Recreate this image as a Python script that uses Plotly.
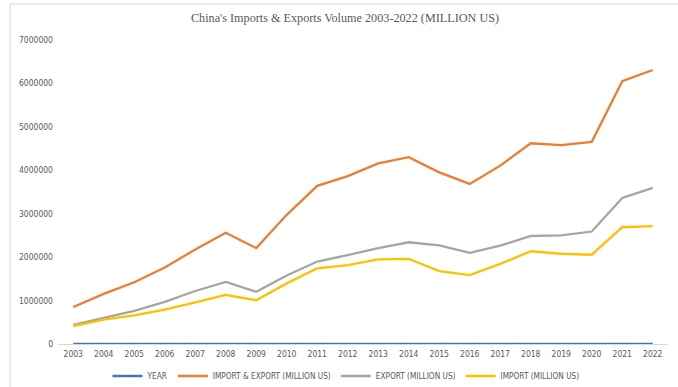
import plotly.graph_objects as go

years = [2003, 2004, 2005, 2006, 2007, 2008, 2009, 2010, 2011, 2012,
         2013, 2014, 2015, 2016, 2017, 2018, 2019, 2020, 2021, 2022]
import_export = [851000, 1154600, 1421900, 1760400, 2176200, 2563300, 2207500,
                 2974000, 3641900, 3867100, 4159000, 4301500, 3953000, 3685600,
                 4107100, 4622400, 4578900, 4655900, 6051500, 6309600]
export = [438200, 593300, 762000, 969000, 1220500, 1430700, 1201600, 1577800,
          1898400, 2048700, 2209000, 2342300, 2273500, 2097600, 2263300,
          2486700, 2499000, 2590000, 3362000, 3593600]
imports = [412800, 561200, 660000, 791500, 955800, 1132600, 1005900, 1396200,
           1743500, 1818400, 1950000, 1959200, 1679600, 1587900, 1843800,
           2135700, 2078400, 2055900, 2688400, 2716000]
y_ticks = [0, 1000000, 2000000, 3000000, 4000000, 5000000, 6000000, 7000000]

cats = [str(y) for y in years]
series = [
    ("YEAR", years, "#4472C4"),
    ("IMPORT & EXPORT (MILLION US)", import_export, "#ED7D31"),
    ("EXPORT (MILLION US)", export, "#A5A5A5"),
    ("IMPORT (MILLION US)", imports, "#FFC000"),
]

fig = go.Figure()
for name, vals, color in series:
    fig.add_trace(go.Scatter(x=cats, y=vals, name=name, mode="lines",
                             line=dict(color=color, width=2.3)))

tick_font = dict(family="DejaVu Sans Condensed, Liberation Sans, sans-serif",
                 size=8.5, color="#595959")
legend_font = dict(family="DejaVu Sans Condensed, Liberation Sans, sans-serif",
                   size=8.2, color="#595959")

fig.update_layout(
    width=678, height=387,
    margin=dict(l=58, r=10, t=40, b=43, autoexpand=False),
    paper_bgcolor="white", plot_bgcolor="white",
    title=dict(text="China's Imports & Exports Volume 2003-2022 (MILLION US)",
               x=345 / 678, xref="container", xanchor="center",
               y=1 - 18 / 387, yanchor="middle",
               font=dict(family="Liberation Serif, Times New Roman, serif",
                         size=12.2, color="#595959")),
    xaxis=dict(type="category", range=[-0.5, len(cats) - 0.5],
               showgrid=False, showline=False, zeroline=False, automargin=False,
               ticks="", tickfont=tick_font, ticklabelstandoff=3),
    yaxis=dict(range=[0, 7000000], tickvals=y_ticks,
               ticktext=[str(v) for v in y_ticks], automargin=False,
               showgrid=False, zeroline=True, zerolinecolor="#D9D9D9",
               zerolinewidth=1, showline=False, ticks="", tickfont=tick_font,
               ticklabelstandoff=4),
    legend=dict(orientation="h", x=346 / 678, xref="container", xanchor="center",
                y=1 - 376 / 387, yref="container", yanchor="middle",
                font=legend_font, itemwidth=30, bgcolor="rgba(0,0,0,0)"),
    showlegend=True,
)

# light frame around the chart area
fig.add_shape(type="rect", xref="paper", yref="paper",
              x0=(10 - 58) / 610, x1=(690 - 58) / 610,
              y0=(344 - 400) / 304, y1=(344 - 4) / 304,
              line=dict(color="#D9D9D9", width=1), layer="below")

fig.write_html("out.html")
